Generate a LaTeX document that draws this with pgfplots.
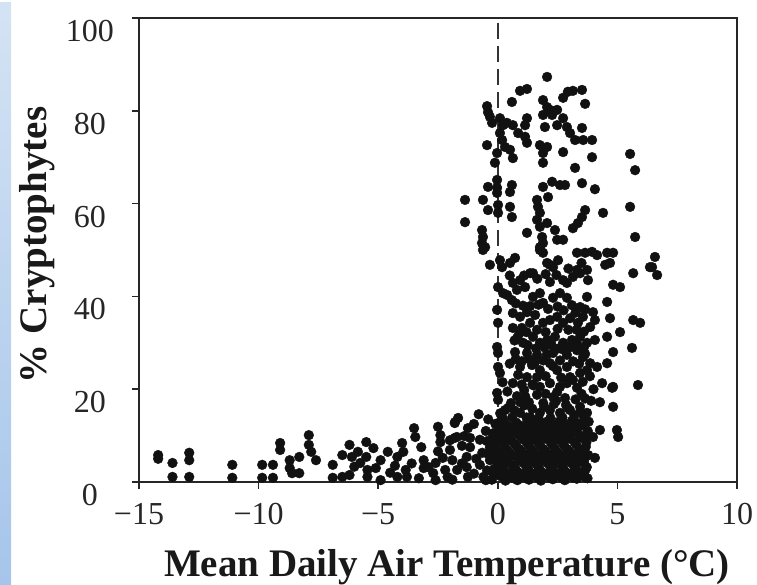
\documentclass[border=0pt]{standalone}
\usepackage{fontspec}
\setmainfont{Liberation Serif}
\usepackage{xcolor}
\usepackage{pgfplots}
\pgfplotsset{compat=1.18}
\definecolor{stripTop}{HTML}{D4E3F4}
\definecolor{stripBot}{HTML}{A6C5EA}
\definecolor{dot}{HTML}{111111}

\pgfplotsset{dots/.style={only marks, mark=*, mark size=4.9pt, color=dot, mark options={draw=dot, fill=dot}}}

\begin{document}
\begin{tikzpicture}
\useasboundingbox (0,0) rectangle (757pt,585pt);
\shade[top color=stripTop, bottom color=stripBot] (0,0) rectangle (11pt,582pt);
\begin{axis}[
    at={(139pt,103pt)}, anchor=south west,
    scale only axis,
    width=598pt, height=464pt,
    xmin=-15, xmax=10, ymin=0, ymax=100,
    clip=false,
    axis line style={line width=1.6pt, color=black!85},
    tick pos=left,
    tick align=outside,
    major tick length=7pt,
    tick style={line width=1.5pt, color=black!85},
    xtick={-15,-10,-5,0,5,10},
    xticklabels={−15,−10,−5,0,5,10},
    ytick={0,20,40,60,80,100},
    yticklabels={0,20,40,60,80,100},
    ticklabel style={font=\fontsize{32}{36}\selectfont, text=black!85},
    xticklabel style={inner sep=0pt, yshift=-14pt},
    yticklabel style={anchor=north, inner sep=0pt, xshift=-42pt, yshift=-2pt},
    xlabel={Mean Daily Air Temperature (°C)},
    ylabel={\% Cryptophytes},
    label style={font=\fontsize{39}{44}\selectfont\bfseries, text=black!90},
    xlabel style={at={(axis description cs:0.515,-0.2026)}, anchor=base},
    ylabel style={at={(axis description cs:-0.1555,0.511)}, anchor=base},
]
\addplot[black!80, line width=2pt, dash pattern=on 16pt off 7pt, forget plot] coordinates {(0,99) (0,0)};

% cold side, sparse
\addplot[dots] coordinates {
(-14.2,5.8) (-14.2,5.0) (-13.6,4.1) (-13.6,1.1)
(-12.9,6.3) (-12.9,4.7) (-12.9,1.1)
(-11.1,3.7) (-11.1,0.9)
(-9.85,3.7) (-9.85,0.9) (-9.4,3.7) (-9.4,0.9)
(-9.1,8.4) (-9.1,6.9)
(-8.7,4.7) (-8.7,3.0) (-8.6,1.9)
(-8.3,5.4) (-8.3,1.9)
(-7.9,10.1) (-7.9,8.0) (-7.8,6.5) (-7.6,4.7)
(-6.9,3.7) (-6.9,0.9)
(-6.5,5.8) (-6.2,8.0) (-6.1,5.4) (-6.5,1.1) (-6.2,1.5) (-6.0,3.3)
(-5.85,6.5) (-5.75,4.1) (-5.2,7.3) (-5.1,3.0)
(-5.5,8.6) (-5.5,5.4) (-5.45,2.6) (-5.45,1.1)
(-4.9,4.7) (-4.9,0.4) (-4.6,6.5) (-4.5,2.0)
(-4.2,5.4) (-4.2,1.1) (-4.3,3.5)
(-4.0,8.4) (-3.95,6.5) (-3.85,2.6) (-3.8,1.1) (-3.6,4.0)
(-3.5,11.6) (-3.45,9.7)
(-3.2,7.5) (-3.1,4.7) (-3.1,3.0) (-3.3,0.8)
};

% transition, -3 to 0
\addplot[dots] coordinates {
(-2.7,1.9) (-2.6,4.1) (-2.9,3.2) (-2.6,0.4)
(-2.5,11.9) (-2.4,10.1) (-2.4,8.6) (-2.5,6.6)
(-2.3,5.2) (-2.2,2.6) (-2.1,1.1)
(-2.0,6.9) (-2.0,9.0) (-1.9,4.7) (-1.7,2.6) (-1.9,0.5)
(-1.8,12.7) (-1.66,13.8) (-1.8,9.5) (-1.79,12.9) (-1.71,9.7)
(-1.25,11.6) (-1.16,9.5) (-1.16,7.5) (-1.5,4.0) (-1.5,7.8) (-1.4,9.9)
(-1.3,5.4) (-1.3,3.2) (-1.25,1.1) (-1.0,1.8) (-1.0,12.5)
(-0.75,9.1) (-0.65,6.3) (-0.75,3.7) (-0.6,1.1) (-0.9,5.0)
(-0.5,11.0) (-0.4,13.5) (-0.8,14.6) (-0.5,0.4)
(-0.33,7.5) (-0.33,4.7) (-0.24,2.2) (-0.2,9.8) (-0.1,12.5)
(-0.45,2.5) (-0.4,6.0) (-0.45,8.8)
};

% dense warm block, 0 to 4, low values
\addplot[dots] coordinates {
(-0.25,0.5) (-0.15,2.8) (-0.22,5.5) (-0.12,8.0) (-0.2,10.5)
(0.02,1.5) (0.1,3.9) (0.0,6.5) (0.08,9.2) (0.03,12.0) (0.1,14.8)
(0.32,0.3) (0.26,2.4) (0.35,5.0) (0.28,7.6) (0.33,10.2) (0.25,13.0)
(0.55,1.2) (0.6,3.6) (0.5,6.2) (0.58,8.8) (0.52,11.4) (0.6,13.9) (0.55,17.0)
(0.82,0.4) (0.76,2.6) (0.85,5.1) (0.78,7.7) (0.83,10.3) (0.77,12.8) (0.8,18.5)
(1.05,1.6) (1.1,4.0) (1.0,6.6) (1.08,9.1) (1.03,11.7) (1.1,16.5)
(1.3,0.5) (1.26,2.9) (1.33,5.4) (1.28,8.0) (1.32,10.6) (1.25,13.2) (1.3,17.2)
(1.55,1.4) (1.6,3.9) (1.5,6.5) (1.58,9.0) (1.52,11.5) (1.56,12.6)
(1.8,0.3) (1.76,2.6) (1.84,5.2) (1.78,7.8) (1.82,10.3) (1.77,12.4) (1.9,17.0)
(2.05,1.5) (2.1,4.0) (2.0,6.6) (2.08,9.2) (2.02,11.8) (2.06,13.0)
(2.3,0.6) (2.26,2.9) (2.34,5.4) (2.28,8.0) (2.32,10.6) (2.27,12.2) (2.35,16.8)
(2.55,1.3) (2.6,3.8) (2.5,6.3) (2.58,9.0) (2.52,11.6) (2.56,13.0)
(2.8,0.4) (2.76,2.7) (2.84,5.2) (2.78,7.8) (2.82,10.4) (2.77,12.6) (2.85,16.6)
(3.05,1.5) (3.1,4.0) (3.0,6.6) (3.08,9.2) (3.02,11.8) (3.1,13.2)
(3.3,0.7) (3.26,3.0) (3.34,5.5) (3.28,8.1) (3.32,10.7) (3.27,12.8) (3.25,17.8)
(3.55,1.6) (3.6,4.1) (3.5,6.7) (3.58,9.4) (3.52,12.2) (3.6,14.0)
(3.75,0.8) (3.72,3.2) (3.78,5.8) (3.7,8.5) (3.76,11.0) (3.8,13.0)
(0.4,19.5) (1.1,19.8) (2.0,19.0) (2.6,20.5) (3.5,19.0) (1.5,20.8) (0.2,21.5)
(0.30,15.5) (0.93,14.9) (1.35,14.0) (1.76,14.9) (2.18,15.5) (2.60,14.9)
(3.02,15.5) (3.44,16.2) (3.73,14.9)
(4.27,11.2) (3.98,9.7) (4.98,11.2) (5.03,9.7) (4.06,5.2)
(-0.08,1.9) (-0.05,4.4) (-0.1,7.0) (-0.06,9.6) (-0.04,12.6)
(0.18,1.1) (0.2,3.2) (0.16,5.8) (0.22,8.4) (0.17,11.0) (0.2,13.8)
(0.43,1.8) (0.45,4.3) (0.4,6.9) (0.46,9.5) (0.42,12.1) (0.44,16.0)
(0.68,0.8) (0.7,3.1) (0.66,5.7) (0.72,8.2) (0.67,10.9) (0.7,15.4)
(0.93,1.9) (0.95,4.5) (0.9,7.1) (0.96,9.8) (0.92,12.2) (0.94,17.2)
(1.18,0.9) (1.2,3.3) (1.16,5.9) (1.22,8.5) (1.17,11.1) (1.2,13.9) (1.15,18.4)
(1.43,1.9) (1.45,4.5) (1.4,7.1) (1.46,9.7) (1.42,12.3) (1.44,15.8)
(1.68,0.9) (1.7,3.2) (1.66,5.8) (1.72,8.4) (1.67,11.0) (1.7,13.7)
(1.93,1.9) (1.95,4.5) (1.9,7.1) (1.96,9.7) (1.92,12.3) (1.94,16.2)
(2.18,0.9) (2.2,3.3) (2.16,5.9) (2.22,8.5) (2.17,11.1) (2.2,13.8)
(2.43,1.9) (2.45,4.5) (2.4,7.1) (2.46,9.7) (2.42,12.3) (2.44,17.5)
(2.68,0.9) (2.7,3.2) (2.66,5.8) (2.72,8.4) (2.67,11.0) (2.7,13.9)
(2.93,1.9) (2.95,4.5) (2.9,7.1) (2.96,9.7) (2.92,12.3) (2.94,15.9)
(3.18,0.9) (3.2,3.3) (3.16,5.9) (3.22,8.5) (3.17,11.1) (3.2,14.3)
(3.43,1.9) (3.45,4.5) (3.4,7.1) (3.46,9.7) (3.42,12.3) (3.44,15.2)
(3.65,1.0) (3.66,2.6) (3.63,5.0) (3.68,7.6) (3.62,10.0)
};

% warm side, middle values
\addplot[dots] coordinates {
(-0.53,50.6) (0.09,47.8) (0.51,47.2) (1.76,50.6) (2.18,46.8) (2.52,47.8)
(4.15,48.9) (4.49,46.8) (3.31,45.7) (3.77,43.5) (6.36,46.3) (1.35,45.0)
(2.89,42.9) (0.39,40.3) (0.59,39.2) (0.80,41.4) (1.14,42.0) (1.47,39.9)
(1.76,40.7) (1.89,38.6) (2.31,39.7) (2.60,40.7) (2.89,39.7) (3.10,38.1)
(3.44,37.7) (3.73,39.9) (4.57,38.8) (4.69,35.3) (3.98,36.6) (4.06,34.9)
(5.66,34.9) (5.95,34.3) (5.11,32.3) (4.57,31.3) (5.61,28.9) (4.82,28.0)
(-0.03,37.1) (0.01,34.3) (0.63,36.4) (0.93,35.6) (1.22,36.6) (1.56,36.0)
(0.63,33.2) (1.01,33.2) (1.35,34.3) (1.64,32.8) (1.89,34.3) (2.18,34.9)
(2.48,35.6) (2.73,34.3) (3.02,35.3) (3.35,34.3) (3.56,35.6) (3.86,33.4)
(0.80,31.0) (1.05,30.0) (1.47,31.3) (1.76,30.0) (2.06,30.6) (2.39,31.3)
(2.73,30.0) (3.10,30.6) (3.44,31.3) (3.73,30.0) (4.06,30.6)
(-0.03,29.1) (0.01,27.8) (0.72,28.0) (1.22,27.8) (1.64,27.4) (2.31,27.8)
(2.89,27.4) (3.31,28.4) (3.56,26.9) (3.86,25.6) (3.73,24.1) (4.15,24.8)
(4.57,25.6) (0.01,24.8) (0.09,23.5) (0.93,24.8) (0.85,23.1) (1.43,25.2)
(1.76,24.1) (1.64,22.6) (2.18,25.6) (2.48,24.1) (2.89,24.8) (3.02,22.6)
(3.44,23.5) (0.63,21.3) (1.22,22.6) (1.76,20.5) (2.18,21.3) (2.48,19.4)
(2.89,21.3) (3.14,22.0) (3.31,20.3) (-0.03,19.2) (0.01,17.7) (4.36,21.3)
(4.82,20.5) (5.86,20.9) (1.64,18.8) (2.31,18.3) (2.81,18.1) (4.27,17.2)
(4.82,16.2) (4.78,20.3)
(0.5,25.5) (0.75,26.5) (1.0,26.0) (1.3,26.5) (1.55,25.8) (1.9,26.2) (2.05,27.5)
(2.3,25.0) (2.6,26.2) (2.75,28.5) (3.15,26.0) (3.4,25.5) (3.65,27.6)
(0.7,30.5) (1.25,29.5) (1.6,28.8) (1.95,29.0) (2.25,29.5) (2.55,28.8) (3.0,29.0)
(3.3,30.0) (3.6,29.0)
(0.75,38.5) (1.05,38.0) (1.35,37.9) (1.7,38.2) (2.1,37.3) (2.5,37.8) (2.75,37.0)
(3.25,36.5) (3.65,37.2)
(0.5,44.5) (1.1,44.5) (1.65,43.8) (2.0,44.8) (2.45,44.6) (2.95,46.0) (3.5,47.2)
(1.0,21.0) (1.45,21.0) (2.0,22.8) (2.65,22.5) (3.55,21.6) (3.85,22.8) (4.0,20.0)
(3.9,17.5) (3.65,18.0)
(0.9,32.0) (1.2,32.3) (2.0,32.3) (2.5,33.0) (2.95,32.8) (3.3,32.8) (3.6,32.4)
};

% warm side, high values
\addplot[dots] coordinates {
(2.06,87.3) (0.93,84.3) (1.22,84.7) (0.59,81.9) (-0.45,81.0) (-0.41,79.7)
(-0.33,78.7) (-0.24,77.4) (0.09,78.4) (0.22,76.9) (0.38,77.4) (0.63,76.9)
(1.22,78.4) (1.14,76.9) (1.89,82.3) (2.06,80.8) (2.18,80.2) (1.89,79.1)
(2.27,79.1) (2.48,80.2) (2.73,82.8) (2.93,84.1) (3.14,84.3) (3.52,84.5)
(3.65,81.5) (2.48,76.9) (2.73,78.4) (2.89,76.5) (3.02,75.2) (3.23,73.7)
(3.52,76.3) (3.57,73.7) (3.94,73.7) (1.97,76.5) (0.85,75.2) (1.14,74.4)
(1.22,73.1) (0.09,75.2) (0.18,73.7) (0.30,72.2) (-0.45,72.6) (-0.03,70.9)
(-0.12,68.8) (0.51,71.6) (0.63,69.8) (1.76,72.6) (2.06,72.2) (1.89,70.9)
(1.89,68.8) (2.73,71.1) (3.94,70.0) (5.53,70.7) (5.74,67.2) (3.23,67.7)
(2.27,64.7) (2.60,64.0) (2.81,64.0) (3.52,64.4) (4.06,63.1) (1.89,63.6)
(0.59,64.0) (0.51,62.5) (-0.03,65.1) (-0.41,63.6) (-0.03,63.4) (-0.03,62.3)
(-1.37,60.8) (-0.62,60.8) (-1.37,56.0) (-0.41,58.6) (0.01,59.7) (0.01,58.0)
(0.51,59.3) (0.59,57.1) (1.64,60.8) (1.68,59.3) (1.76,58.0) (2.10,61.4)
(1.64,56.5) (1.76,55.0) (2.06,55.8) (2.39,54.3) (3.14,54.7) (3.35,55.8)
(3.65,58.6) (3.52,57.1) (4.40,58.0) (5.53,59.3) (5.74,52.8) (6.57,48.5)
(6.45,46.3) (6.66,44.6) (5.66,45.0) (1.22,53.7) (1.85,52.8) (1.89,51.5)
(1.76,50.0) (2.48,52.2) (2.73,52.2) (-0.66,54.3) (-0.62,52.8) (-0.66,51.5)
(-0.62,50.0) (-0.33,46.8) (0.18,46.3) (0.72,48.3) (3.31,49.4) (3.65,49.4)
(3.94,49.6) (4.57,49.4) (4.82,49.4) (4.69,47.2) (3.44,45.0) (3.73,45.7)
(1.89,49.4) (2.06,47.2) (2.31,46.3) (1.47,45.0) (0.93,43.5) (0.63,42.9)
(0.01,42.0) (0.22,40.7) (2.18,43.1) (2.73,43.5) (3.14,44.2) (4.82,42.5)
(5.11,42.0)
};
\end{axis}
\end{tikzpicture}
\end{document}
